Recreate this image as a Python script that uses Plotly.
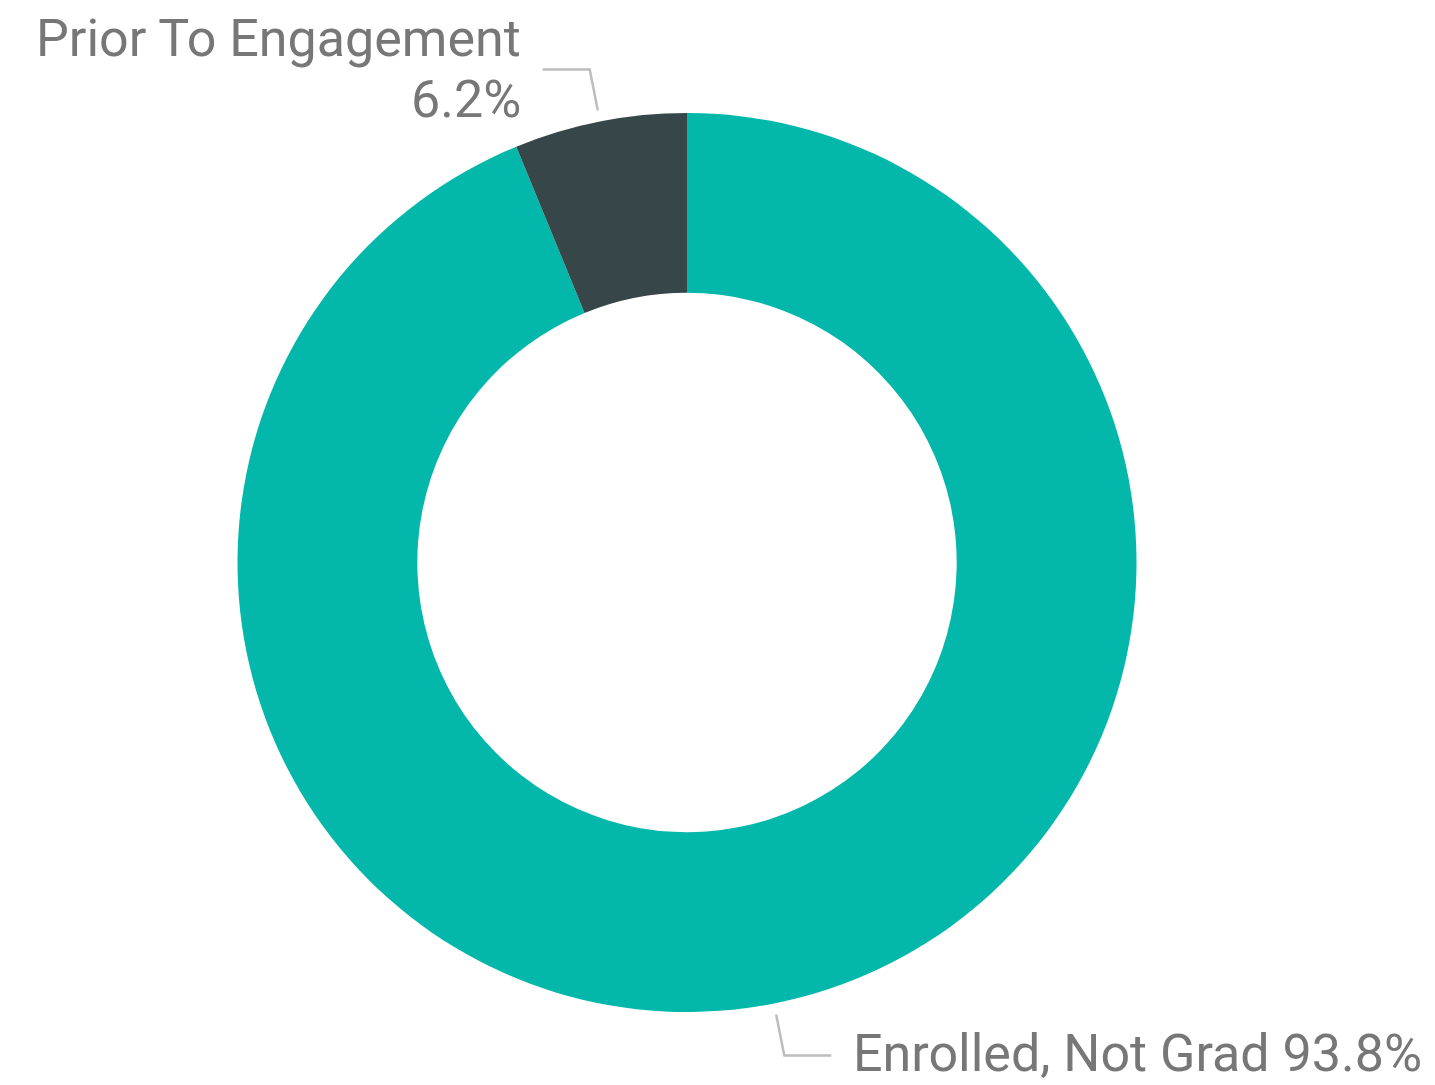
import math
import plotly.graph_objects as go

categories = ["Enrolled, Not Grad", "Prior To Engagement"]
values = [93.8, 6.2]
colors = ["#03B8AA", "#374649"]

W, H = 1435, 1085
dom_x = (237 / W, 1137 / W)
dom_y = (1 - 1012 / H, 1 - 113 / H)

fig = go.Figure(go.Pie(
    labels=categories,
    values=values,
    hole=0.6,
    sort=False,
    direction="clockwise",
    rotation=0,
    marker=dict(colors=colors, line=dict(width=0)),
    textinfo="none",
    hoverinfo="label+percent",
    showlegend=False,
    domain=dict(x=list(dom_x), y=list(dom_y)),
))

# geometry in pixels derived from the domain
cx = (dom_x[0] + dom_x[1]) / 2 * W
cy = (1 - (dom_y[0] + dom_y[1]) / 2) * H
R = min((dom_x[1] - dom_x[0]) * W, (dom_y[1] - dom_y[0]) * H) / 2

def px(x, y):
    return x / W, 1 - y / H

total = sum(values)
cum = 0
shapes = []
annotations = []
font = dict(family="Roboto, Arial, sans-serif", size=52, color="#777777")
for cat, v in zip(categories, values):
    mid = (cum + v / 2) / total * 2 * math.pi
    cum += v
    sx, sy = math.sin(mid), -math.cos(mid)
    x0, y0 = cx + sx * R * 1.025, cy + sy * R * 1.025
    x1, y1 = cx + sx * R * 1.118, cy + sy * R * 1.118
    side = 1 if sx >= 0 else -1
    x2 = x1 + side * 47
    p0, p1, p2 = px(x0, y0), px(x1, y1), px(x2, y1)
    shapes.append(dict(type="path", xref="paper", yref="paper",
                       path=f"M {p0[0]},{p0[1]} L {p1[0]},{p1[1]} L {p2[0]},{p2[1]}",
                       line=dict(color="#BDBDBD", width=2.5)))
    pct = f"{v / total * 100:.1f}%"
    if side < 0:
        tx = x2 - 20
        for txt, dy in ((cat, -31), (pct, 30)):
            ax, ay = px(tx, y1 + dy)
            annotations.append(dict(x=ax, y=ay, xref="paper", yref="paper", text=txt,
                                    showarrow=False, xanchor="right", yanchor="middle",
                                    align="right", font=font))
    else:
        tx = x2 + 20
        ax, ay = px(tx, y1 - 2)
        annotations.append(dict(x=ax, y=ay, xref="paper", yref="paper",
                                text=f"{cat} {pct}",
                                showarrow=False, xanchor="left", yanchor="middle",
                                align="left", font=font))

fig.update_layout(
    width=W, height=H,
    margin=dict(l=0, r=0, t=0, b=0),
    paper_bgcolor="white",
    plot_bgcolor="white",
    shapes=shapes,
    annotations=annotations,
)

fig.write_html("out.html", config={"displayModeBar": False},
               post_script="document.body.style.margin='0';")
